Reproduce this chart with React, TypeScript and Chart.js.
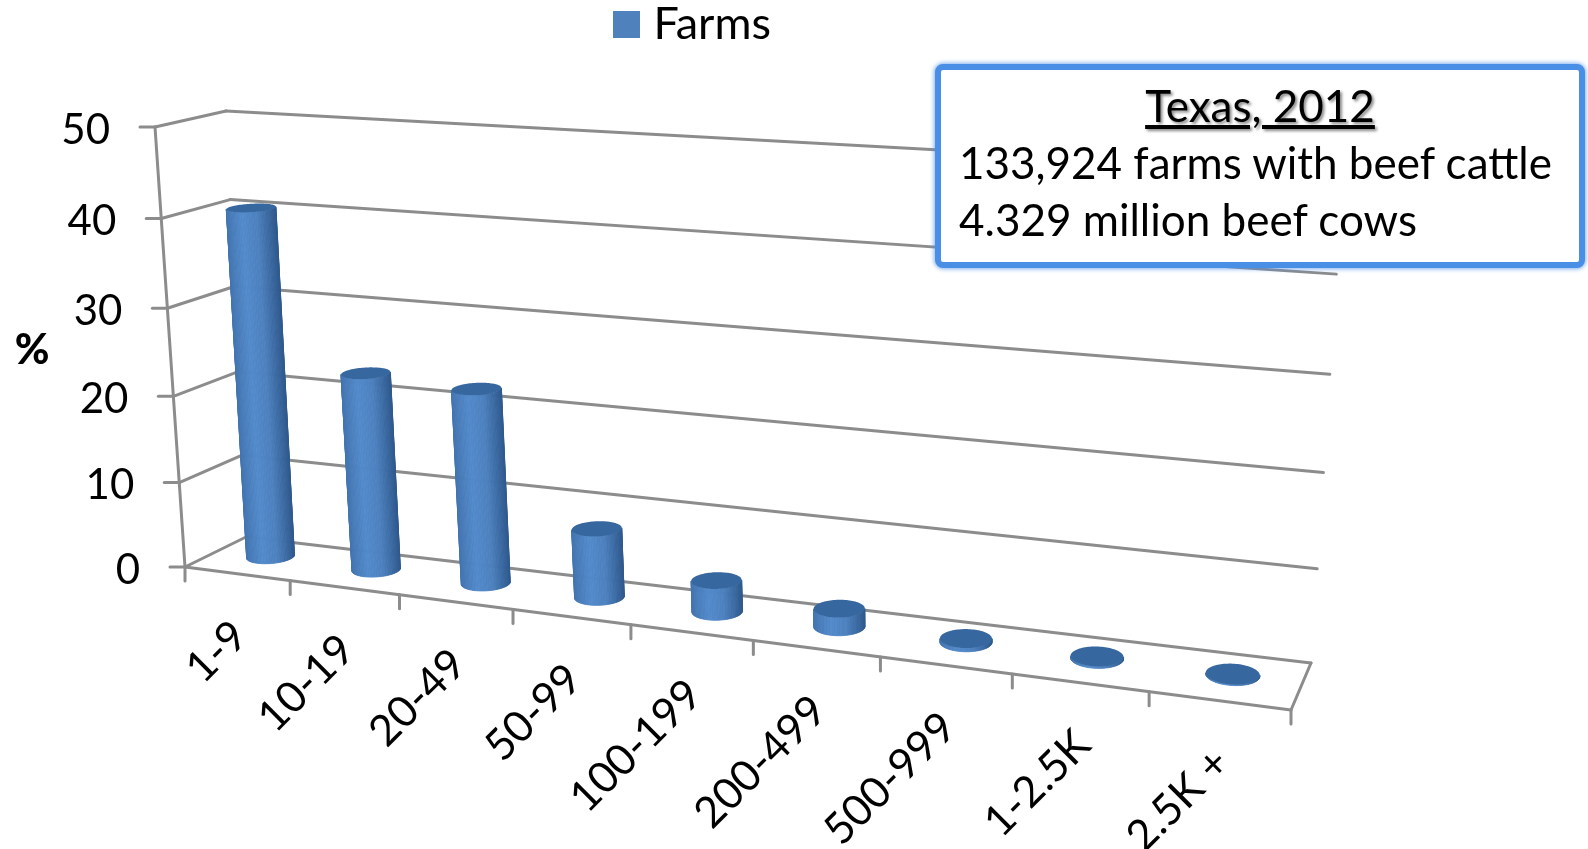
import React, { useEffect, useRef } from "react";
import { Chart, registerables } from "chart.js";

Chart.register(...registerables);

// Herd-size classes and the share of farms in each, percent.
const categories = ["1-9", "10-19", "20-49", "50-99", "100-199", "200-499", "500-999", "1-2.5K", "2.5K +"];
const farmShare = [40.4, 22.8, 22.2, 7.8, 3.5, 2, 0.4, 0.2, 0.1];
const seriesName = "Farms";
const yTicks = [0, 10, 20, 30, 40, 50];
const boxLines = ["Texas, 2012", "133,924 farms with beef cattle", "4.329 million beef cows"];

const FONT = "Lato";
const GRID = "#8c8c8c";
const BAR = "#4f81bd";

type P = [number, number];

// Corners of the floor and of the ceiling of the plot box, as seen on screen.
// Order: front-left, front-right, back-right, back-left.
const FLOOR: P[] = [[185, 567], [1291, 710], [1311, 663], [246, 537]];
const CEILING: P[] = [[155, 127], [1339, 200], [1343, 172], [226, 111]];

// Homography taking the unit square to a quadrilateral.
function squareToQuad(q: P[]) {
  const [[x0, y0], [x1, y1], [x2, y2], [x3, y3]] = q;
  const dx1 = x1 - x2, dx2 = x3 - x2, sx = x0 - x1 + x2 - x3;
  const dy1 = y1 - y2, dy2 = y3 - y2, sy = y0 - y1 + y2 - y3;
  const den = dx1 * dy2 - dx2 * dy1;
  const g = (sx * dy2 - dx2 * sy) / den;
  const h = (dx1 * sy - sx * dy1) / den;
  const a = x1 - x0 + g * x1, b = x3 - x0 + h * x3;
  const d = y1 - y0 + g * y1, e = y3 - y0 + h * y3;
  return (u: number, w: number): P => {
    const k = g * u + h * w + 1;
    return [(a * u + b * w + x0) / k, (d * u + e * w + y0) / k];
  };
}

const floorAt = squareToQuad(FLOOR);
const ceilingAt = squareToQuad(CEILING);

// u: along the category axis, v: up the value axis, w: depth; all 0..1.
// The small quadratic terms ease the foreshortening along each axis.
function project(u: number, v: number, w: number): P {
  const uu = u + 0.114 * u * (1 - u);
  const vv = v - 0.05 * v * (1 - v);
  const a = floorAt(uu, w);
  const b = ceilingAt(uu, w);
  return [a[0] + (b[0] - a[0]) * vv, a[1] + (b[1] - a[1]) * vv];
}

function segment(ctx: CanvasRenderingContext2D, a: P, b: P) {
  ctx.beginPath();
  ctx.moveTo(a[0], a[1]);
  ctx.lineTo(b[0], b[1]);
  ctx.stroke();
}

// Colour across the lit face of a cylinder, t from left silhouette to right.
function shade(t: number) {
  const stops: [number, number[]][] = [
    [0, [66, 116, 176]],
    [0.35, [82, 138, 203]],
    [0.65, [76, 128, 190]],
    [0.88, [56, 102, 158]],
    [1, [48, 90, 142]],
  ];
  for (let i = 1; i < stops.length; i++) {
    if (t <= stops[i][0]) {
      const [t0, c0] = stops[i - 1];
      const [t1, c1] = stops[i];
      const f = (t - t0) / (t1 - t0);
      const c = c0.map((n, j) => Math.round(n + (c1[j] - n) * f));
      return `rgb(${c[0]},${c[1]},${c[2]})`;
    }
  }
  return "rgb(48,90,142)";
}

function drawCylinder(ctx: CanvasRenderingContext2D, uc: number, v: number, ru: number) {
  const rw = 0.22;
  const wc = 0.55;
  const steps = 96;
  const ring = (vv: number) => {
    const out: P[] = [];
    for (let i = 0; i < steps; i++) {
      const t = (i / steps) * Math.PI * 2;
      out.push(project(uc + ru * Math.cos(t), vv, wc + rw * Math.sin(t)));
    }
    return out;
  };
  const base = ring(0);
  const top = ring(v);
  let iL = 0, iR = 0;
  base.forEach((p, i) => {
    if (p[0] < base[iL][0]) iL = i;
    if (p[0] > base[iR][0]) iR = i;
  });
  const xL = base[iL][0], xR = base[iR][0];
  // Walk the near half of the wall, from the left silhouette to the right one.
  // Depth grows with sin(t), so the near side runs through t = 3/2 pi.
  for (let i = iL; i !== iR; i = (i + 1) % steps) {
    const j = (i + 1) % steps;
    const t = Math.min(1, Math.max(0, ((base[i][0] + base[j][0]) / 2 - xL) / (xR - xL)));
    const col = shade(t);
    ctx.fillStyle = col;
    ctx.strokeStyle = col;
    ctx.lineWidth = 0.8;
    ctx.beginPath();
    ctx.moveTo(base[i][0], base[i][1]);
    ctx.lineTo(base[j][0], base[j][1]);
    ctx.lineTo(top[j][0], top[j][1]);
    ctx.lineTo(top[i][0], top[i][1]);
    ctx.closePath();
    ctx.fill();
    ctx.stroke();
  }
  ctx.fillStyle = "#36679f";
  ctx.beginPath();
  top.forEach((p, i) => (i ? ctx.lineTo(p[0], p[1]) : ctx.moveTo(p[0], p[1])));
  ctx.closePath();
  ctx.fill();
}

// Draws the box, the axes and the cylinders from the chart's own scales.
const perspectivePlugin = {
  id: "perspectiveBox",
  afterLayout(chart: any) {
    const legend = chart.legend;
    const w = legend.right - legend.left;
    legend.left = 612;
    legend.right = 612 + w;
    legend.top = -8;
  },
  beforeDatasetsDraw(chart: any) {
    const { ctx, chartArea: area, scales } = chart;
    const toU = (px: number) => (px - area.left) / (area.right - area.left);
    const toV = (px: number) => (area.bottom - px) / (area.bottom - area.top);
    ctx.save();
    ctx.strokeStyle = GRID;
    ctx.lineWidth = 3;
    ctx.lineCap = "round";

    // Side wall and back wall gridlines, with value ticks and labels.
    ctx.font = `42px ${FONT}`;
    ctx.textAlign = "right";
    ctx.textBaseline = "middle";
    scales.y.ticks.forEach((tick: any) => {
      const v = toV(scales.y.getPixelForValue(tick.value));
      const front = project(0, v, 0);
      const corner = project(0, v, 1);
      const right = project(1, v, 1);
      segment(ctx, front, corner);
      segment(ctx, corner, right);
      segment(ctx, [front[0] - 15, front[1]], front);
      ctx.fillStyle = "#000";
      ctx.fillText(String(tick.value), front[0] - 45, front[1] + 3);
    });
    segment(ctx, project(0, 0, 0), project(0, 1, 0));

    // Floor outline and category separators.
    segment(ctx, project(0, 0, 0), project(1, 0, 0));
    segment(ctx, project(1, 0, 0), project(1, 0, 1));
    const n = categories.length;
    for (let i = 0; i <= n; i++) {
      const p = project(i / n, 0, 0);
      segment(ctx, p, [p[0], p[1] + 14]);
    }

    // Category labels, rotated and hung below the front edge.
    ctx.font = `43px ${FONT}`;
    ctx.fillStyle = "#000";
    scales.x.ticks.forEach((_: any, i: number) => {
      const p = project(toU(scales.x.getPixelForTick(i)), 0, 0);
      ctx.save();
      ctx.translate(p[0] + 3, p[1] + 55);
      ctx.rotate(-Math.PI / 4);
      ctx.fillText(scales.x.getLabelForValue(i), 0, 0);
      ctx.restore();
    });

    // Unit label of the value axis.
    ctx.font = `900 42px ${FONT}`;
    ctx.textAlign = "center";
    ctx.fillText("%", 32, 350);
    ctx.restore();
  },
  // The bars are drawn as cylinders below, not as flat rectangles.
  beforeDatasetDraw() {
    return false;
  },
  afterDatasetsDraw(chart: any) {
    const { ctx, chartArea: area } = chart;
    const wid = area.right - area.left;
    const hei = area.bottom - area.top;
    ctx.save();
    chart.getDatasetMeta(0).data.forEach((bar: any) => {
      const uc = (bar.x - area.left) / wid;
      const v = (area.bottom - bar.y) / hei;
      drawCylinder(ctx, uc, v, bar.width / 2 / wid);
    });
    ctx.restore();
  },
};

export default function App() {
  const ref = useRef<HTMLCanvasElement>(null);
  useEffect(() => {
    const chart = new Chart(ref.current!, {
      type: "bar",
      data: {
        labels: categories,
        datasets: [
          {
            label: seriesName,
            data: farmShare,
            backgroundColor: BAR,
            borderColor: BAR,
            borderWidth: 18,
            barPercentage: 0.385,
            categoryPercentage: 1,
          },
        ],
      },
      options: {
        responsive: false,
        animation: false,
        layout: { padding: { left: 155, right: 249, bottom: 282 } },
        events: [],
        scales: {
          x: { display: false },
          y: { display: false, min: yTicks[0], max: yTicks[yTicks.length - 1], ticks: { stepSize: 10 } },
        },
        plugins: {
          tooltip: { enabled: false },
          legend: {
            position: "top",
            align: "start",
            labels: {
              boxWidth: 9,
              boxHeight: 9,
              padding: 10,
              color: "#000",
              font: { family: FONT, size: 45 },
            },
          },
        },
      },
      plugins: [perspectivePlugin],
    } as any);
    return () => chart.destroy();
  }, []);

  const lineStyle: React.CSSProperties = {
    position: "absolute",
    left: 18,
    whiteSpace: "nowrap",
    lineHeight: "50px",
    height: 50,
  };

  return (
    <div style={{ position: "fixed", left: 0, top: 0, width: 1588, height: 849, background: "#fff", fontFamily: FONT, fontSize: 44, color: "#000" }}>
      <canvas ref={ref} width={1588} height={849} style={{ display: "block" }} />
      <div
        style={{
          position: "absolute",
          left: 935,
          top: 64,
          width: 650,
          height: 204,
          boxSizing: "border-box",
          background: "#fff",
          border: "6px solid #4a8fe6",
          borderRadius: 8,
          boxShadow: "0 0 4px 1px rgba(74,143,230,0.7)",
        }}
      >
        <div style={{ ...lineStyle, left: 0, right: 0, top: 10, textAlign: "center", textDecoration: "underline", textShadow: "2px 2px 3px #888" }}>
          {boxLines[0]}
        </div>
        <div style={{ ...lineStyle, top: 67 }}>{boxLines[1]}</div>
        <div style={{ ...lineStyle, top: 124 }}>{boxLines[2]}</div>
      </div>
    </div>
  );
}
